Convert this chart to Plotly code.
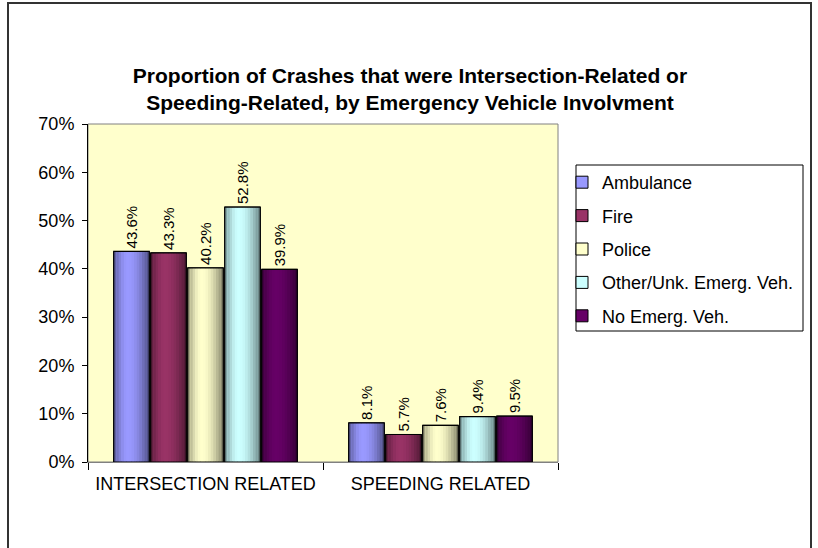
import plotly.graph_objects as go
import math

categories = ["INTERSECTION RELATED", "SPEEDING RELATED"]
series_names = ["Ambulance", "Fire", "Police", "Other/Unk. Emerg. Veh.", "No Emerg. Veh."]
ambulance = [0.436, 0.081]
fire = [0.433, 0.057]
police = [0.402, 0.076]
other_unk = [0.528, 0.094]
no_emerg = [0.399, 0.095]
series_values = [ambulance, fire, police, other_unk, no_emerg]
series_colors = ["#9999FF", "#993366", "#FFFFCC", "#CCFFFF", "#660066"]
y_tick_values = [0, 0.1, 0.2, 0.3, 0.4, 0.5, 0.6, 0.7]
y_tick_labels = ["0%", "10%", "20%", "30%", "40%", "50%", "60%", "70%"]

W, H = 818, 548
L, R, T, B = 88, 260, 124, 86
pw = W - L - R
ph = H - T - B

cat_px = pw / len(categories)
group_frac = 185 / cat_px
slot = group_frac / len(series_names)
bar_w = slot * 0.96
N_STRIPS = 14


def shade(hexcol, f):
    h = hexcol.lstrip("#")
    r, g, b = int(h[0:2], 16), int(h[2:4], 16), int(h[4:6], 16)
    return "rgb(%d,%d,%d)" % (round(r * f), round(g * f), round(b * f))


def profile(t):
    if t < 0.4:
        return 0.58 + 0.42 * math.sin(math.pi / 2 * t / 0.4)
    return 0.5 + 0.5 * math.cos(math.pi / 2 * (t - 0.4) / 0.6)


def px_x(p):
    return (p - L) / pw


def px_y(p):
    return (H - B - p) / ph


fig = go.Figure()

for i, (name, vals, col) in enumerate(zip(series_names, series_values, series_colors)):
    off = -group_frac / 2 + i * slot + (slot - bar_w) / 2
    fig.add_trace(go.Bar(
        x=categories, y=vals, name=name, offset=off, width=bar_w,
        marker=dict(color=col, line=dict(color="#000000", width=1)),
        legendgroup=name, hoverinfo="skip",
    ))
    sw = bar_w / N_STRIPS
    for k in range(N_STRIPS):
        t = (k + 0.5) / N_STRIPS
        fig.add_trace(go.Bar(
            x=categories, y=vals, offset=off + k * sw, width=sw * 1.05,
            marker=dict(color=shade(col, profile(t)), line=dict(width=0)),
            showlegend=False, legendgroup=name, hoverinfo="skip",
        ))
    fig.add_trace(go.Bar(
        x=categories, y=vals, offset=off, width=bar_w,
        marker=dict(color="rgba(0,0,0,0)", line=dict(color="#000000", width=1.2)),
        text=["%.1f%%" % (v * 100) for v in vals],
        textposition="outside", textangle=-90, constraintext="none",
        textfont=dict(family="Arial, Liberation Sans", size=15, color="#000000"),
        cliponaxis=False, showlegend=False, legendgroup=name, hoverinfo="skip",
    ))

fig.update_layout(
    width=W, height=H,
    margin=dict(l=L, r=R, t=T, b=B),
    barmode="overlay",
    paper_bgcolor="#FFFFFF",
    plot_bgcolor="#FFFFCC",
    font=dict(family="Arial, Liberation Sans", size=18, color="#000000"),
    title=dict(
        text="Proportion of Crashes that were Intersection-Related or<br>Speeding-Related, by Emergency Vehicle Involvment",
        font=dict(family="Arial, Liberation Sans", size=21, color="#000000", weight="bold"),
        x=410 / W, xanchor="center", xref="container",
        y=1 - 83 / H, yanchor="middle", yref="container",
    ),
    showlegend=True,
    legend=dict(
        x=px_x(562), xanchor="left", xref="paper",
        y=px_y(164), yanchor="top", yref="paper",
        bgcolor="rgba(0,0,0,0)", borderwidth=0,
        font=dict(size=18, family="Arial, Liberation Sans"),
        traceorder="grouped", tracegroupgap=7,
    ),
    xaxis=dict(
        type="category", showgrid=False, showline=True, linecolor="#808080", linewidth=1,
        ticks="outside", tickson="boundaries", ticklen=7, tickcolor="#000000",
        tickfont=dict(size=18), range=[-0.5, 1.5], ticklabelstandoff=5,
    ),
    yaxis=dict(
        range=[0, 0.7], tickvals=y_tick_values, ticktext=y_tick_labels,
        showgrid=False, zeroline=False, showline=True, linecolor="#000000", linewidth=1,
        ticks="outside", ticklen=5, tickcolor="#000000", tickfont=dict(size=18),
        ticklabelstandoff=4,
    ),
    shapes=[
        dict(type="rect", xref="paper", yref="paper", x0=0, x1=1, y0=0, y1=1,
             line=dict(color="#808080", width=1), layer="below"),
        dict(type="rect", xref="paper", yref="paper",
             x0=px_x(576), x1=px_x(803), y0=px_y(331), y1=px_y(165),
             line=dict(color="#000000", width=1), fillcolor="#FFFFFF", layer="below"),
        dict(type="rect", xref="paper", yref="paper",
             x0=px_x(8), x1=px_x(811), y0=px_y(600), y1=px_y(3),
             line=dict(color="#333333", width=2)),
    ],
)

fig.write_html(
    "out.html",
    config={"displayModeBar": False},
    post_script="document.body.style.margin='0';document.body.style.padding='0';",
)
